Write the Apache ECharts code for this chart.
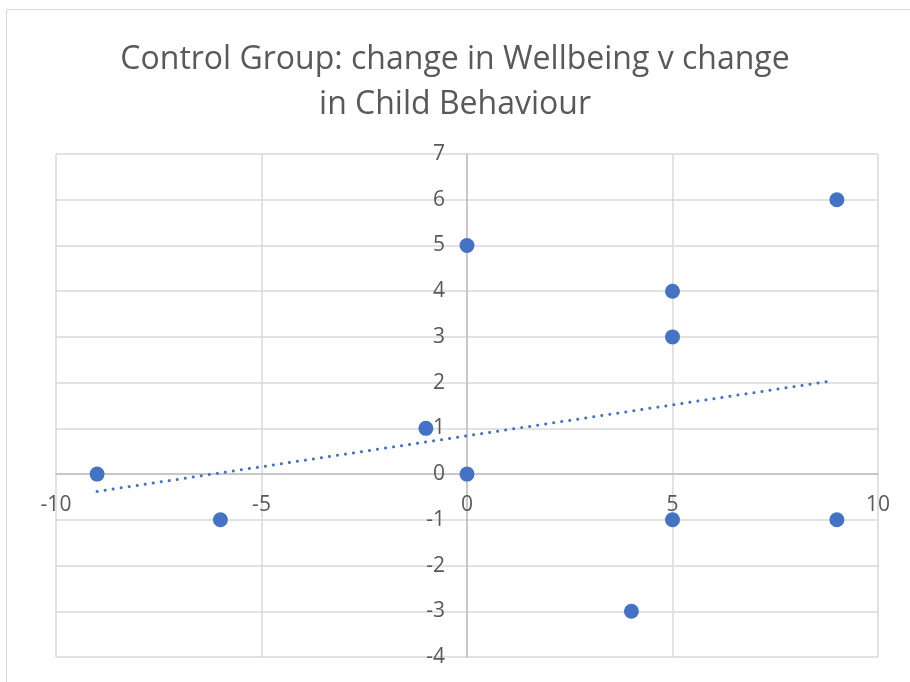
<!DOCTYPE html>
<html>
<head>
<meta charset="utf-8">
<script src="https://cdn.jsdelivr.net/npm/echarts@6/dist/echarts.min.js"></script>
<style>
  html, body { margin: 0; padding: 0; background: #fff; }
  #main { width: 910px; height: 682px; }
</style>
</head>
<body>
<div id="main"></div>
<script>
// change in Child Behaviour (x) v change in Wellbeing (y)
const behaviourChange = [-9, -6, -1, 0, 0, 5, 5, 5, 4, 9, 9]
const wellbeingChange = [0, -1, 1, 5, 0, 4, 3, -1, -3, 6, -1]
// linear trendline endpoints
const trendX = [-9, 8.9]
const trendY = [-0.38, 2.04]

const points = behaviourChange.map((x, i) => [x, wellbeingChange[i]])
const trend = trendX.map((x, i) => [x, trendY[i]])

const chart = echarts.init(document.getElementById('main'))
const labelFont = { color: '#595959', fontSize: 21, fontFamily: 'Open Sans' }
const gridLine = { lineStyle: { color: '#d9d9d9', width: 1.5 } }

// plot area, used to push the label-only axes onto the zero lines
const grid = { left: 56, right: 32, top: 154, bottom: 25 }
const plotW = 910 - grid.left - grid.right
const plotH = 682 - grid.top - grid.bottom
const xZeroOffset = -plotW * (0 - -10) / 20
const yZeroOffset = -plotH * (0 - -4) / 11

chart.setOption({
  animation: false,
  title: {
    text: 'Control Group: change in Wellbeing v change\nin Child Behaviour',
    left: 'center',
    top: 32,
    textStyle: {
      color: '#595959',
      fontSize: 32,
      fontWeight: 'normal',
      fontFamily: 'Open Sans',
      lineHeight: 45
    }
  },
  graphic: [{
    type: 'rect',
    shape: { x: 6.5, y: 9.5, width: 920, height: 700 },
    style: { fill: 'none', stroke: '#d9d9d9', lineWidth: 1 },
    silent: true
  }],
  grid: grid,
  xAxis: [
    {
      type: 'value',
      min: -10,
      max: 10,
      interval: 5,
      axisLine: { onZero: true, lineStyle: { color: '#bfbfbf', width: 1.5 } },
      axisTick: { show: false },
      axisLabel: { show: false },
      splitLine: gridLine
    },
    {
      type: 'value',
      position: 'bottom',
      offset: yZeroOffset,
      min: -10,
      max: 10,
      interval: 5,
      axisLine: { show: false },
      axisTick: { show: false },
      axisLabel: Object.assign({ margin: 20 }, labelFont),
      splitLine: { show: false }
    }
  ],
  yAxis: [
    {
      type: 'value',
      min: -4,
      max: 7,
      interval: 1,
      axisLine: { onZero: true, lineStyle: { color: '#bfbfbf', width: 1.5 } },
      axisTick: { show: false },
      axisLabel: { show: false },
      splitLine: gridLine
    },
    {
      type: 'value',
      position: 'left',
      offset: xZeroOffset,
      min: -4,
      max: 7,
      interval: 1,
      axisLine: { show: false },
      axisTick: { show: false },
      axisLabel: Object.assign({ margin: 22 }, labelFont),
      splitLine: { show: false }
    }
  ],
  series: [
    {
      type: 'line',
      data: trend,
      symbol: 'none',
      lineStyle: { color: '#4472C4', width: 3, type: [0.1, 8], cap: 'round' },
      z: 3
    },
    {
      type: 'scatter',
      data: points,
      symbolSize: 15,
      itemStyle: { color: '#4472C4', opacity: 1 },
      z: 4
    }
  ]
})
</script>
</body>
</html>
